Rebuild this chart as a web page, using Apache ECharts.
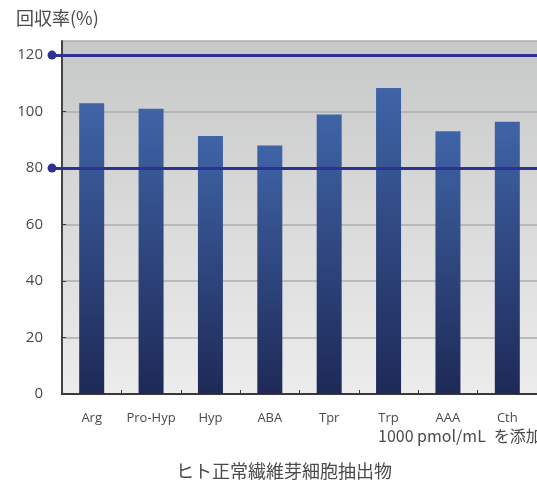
<!DOCTYPE html>
<html>
<head>
<meta charset="utf-8">
<script src="https://cdn.jsdelivr.net/npm/echarts@6/dist/echarts.min.js"></script>
<style>
  html, body { margin: 0; padding: 0; background: #ffffff; }
  #chart { width: 537px; height: 482px; }
</style>
</head>
<body>
<div id="chart"></div>
<script>
// Recovery rate of each amino acid added to human fibroblast extract
const categories = ['Arg', 'Pro-Hyp', 'Hyp', 'ABA', 'Tpr', 'Trp', 'AAA', 'Cth'];
const recovery = [103, 101, 91.4, 88, 99, 108.4, 93, 96.4];
const referenceLines = [120, 80];
const yTitle = '回収率(%)';
const xTitle = 'ヒト正常繊維芽細胞抽出物';
const noteAmount = '1000 pmol/mL';
const noteAction = 'を添加';

const chart = echarts.init(document.getElementById('chart'), null, { renderer: 'canvas' });

const latin = '"Open Sans", "Noto Sans", sans-serif';
const cjk = '"Noto Sans CJK JP", "Open Sans", sans-serif';

chart.setOption({
  animation: false,
  title: [
    { text: yTitle, left: 11, top: 4,
      textStyle: { fontFamily: cjk, fontSize: 18, fontWeight: 'normal', color: '#4a4a4a' } },
    { text: '{a|' + noteAmount + '}{b|' + noteAction + '}', left: 373, top: 423,
      textStyle: {
        fontWeight: 'normal',
        rich: {
          a: { fontFamily: cjk, fontSize: 16, fontWeight: 'normal', color: '#4a4a4a' },
          b: { fontFamily: cjk, fontSize: 16, fontWeight: 'normal', color: '#4a4a4a', padding: [0, 0, 0, 8] }
        }
      } },
    { text: xTitle, left: 171, top: 457,
      textStyle: { fontFamily: cjk, fontSize: 18, fontWeight: 'normal', color: '#4a4a4a' } }
  ],
  grid: {
    left: 62, right: -5, top: 41, bottom: 88,
    show: true,
    borderWidth: 0,
    backgroundColor: {
      type: 'linear', x: 0, y: 0, x2: 0, y2: 1,
      colorStops: [
        { offset: 0, color: '#c7c8c8' },
        { offset: 1, color: '#ececec' }
      ]
    }
  },
  xAxis: {
    type: 'category',
    data: categories,
    axisLine: { show: true, lineStyle: { color: '#3e3838', width: 2 } },
    axisTick: { show: true, inside: true, length: 4, lineStyle: { color: '#3e3838', width: 1 } },
    axisLabel: { interval: 0, margin: 18, fontFamily: latin, fontSize: 13, color: '#4a4a4a' },
    splitLine: { show: false }
  },
  yAxis: {
    type: 'value',
    min: 0, max: 125, interval: 20,
    axisLine: { show: true, lineStyle: { color: '#4a4242', width: 2 } },
    axisTick: { show: true, inside: true, length: 4, lineStyle: { color: '#3e3838', width: 1 } },
    axisLabel: { margin: 19, fontFamily: latin, fontSize: 15, color: '#4a4a4a', showMaxLabel: false },
    splitLine: { show: true, lineStyle: { color: '#adadad', width: 1.5 } }
  },
  series: [{
    type: 'bar',
    data: recovery,
    barWidth: 25,
    itemStyle: {
      color: {
        type: 'linear', x: 0, y: 0, x2: 0, y2: 1,
        colorStops: [
          { offset: 0, color: '#3f64a7' },
          { offset: 1, color: '#1e2957' }
        ]
      }
    },
    markLine: {
      silent: true,
      symbol: ['circle', 'none'],
      symbolSize: 9,
      label: { show: false },
      lineStyle: { color: '#2e3192', width: 3, type: 'solid' },
      itemStyle: { color: '#2e3192' },
      emphasis: { disabled: true },
      data: referenceLines.map(v => ({ yAxis: v, x: 52 }))
    }
  }]
});
</script>
</body>
</html>
